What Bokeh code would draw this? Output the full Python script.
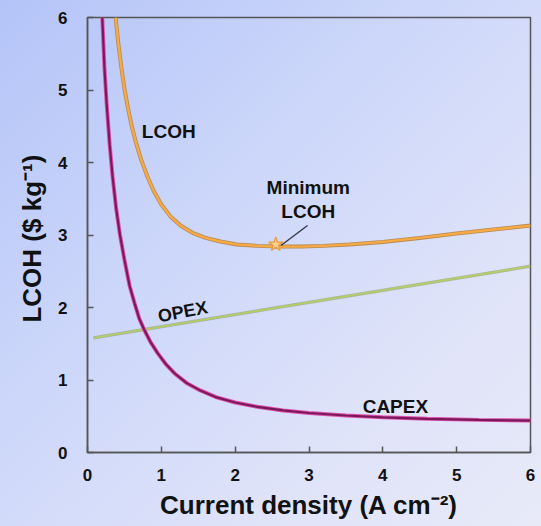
from bokeh.plotting import figure
from bokeh.models import Range1d, FixedTicker
from bokeh.core.properties import value
from bokeh.embed import file_html
from bokeh.resources import INLINE

# ---- data ----
capex_x = [0.20, 0.23, 0.26, 0.30, 0.34, 0.39, 0.44, 0.50, 0.57, 0.64, 0.70, 0.77, 0.85,
           0.95, 1.06, 1.18, 1.34, 1.52, 1.75, 2.00, 2.30, 2.65, 3.00, 3.50, 4.00, 4.60,
           5.30, 6.00]
capex_y = [6.00, 5.30, 4.80, 4.25, 3.80, 3.35, 3.00, 2.66, 2.30, 2.05, 1.85, 1.69, 1.53,
           1.37, 1.22, 1.09, 0.96, 0.86, 0.76, 0.69, 0.63, 0.58, 0.545, 0.51, 0.485, 0.465,
           0.45, 0.44]

lcoh_x = [0.38, 0.42, 0.46, 0.50, 0.55, 0.60, 0.66, 0.73, 0.81, 0.90, 1.00, 1.12, 1.26,
          1.42, 1.60, 1.80, 2.02, 2.30, 2.60, 2.90, 3.20, 3.55, 4.00, 4.50, 5.00, 5.50, 6.00]
lcoh_y = [6.00, 5.62, 5.30, 5.02, 4.74, 4.50, 4.26, 4.03, 3.81, 3.60, 3.42, 3.26, 3.13,
          3.03, 2.96, 2.91, 2.87, 2.85, 2.84, 2.84, 2.85, 2.87, 2.905, 2.96, 3.02, 3.075, 3.13]

opex_x = [0.08, 3.00, 6.00]
opex_y = [1.58, 2.07, 2.57]

min_x = [2.55]
min_y = [2.87]

x_ticks = [0, 1, 2, 3, 4, 5, 6]
y_ticks = [0, 1, 2, 3, 4, 5, 6]

FONT = "Liberation Sans"

p = figure(width=541, height=526, output_backend="svg", toolbar_location=None,
           x_range=Range1d(0, 6), y_range=Range1d(0, 6),
           min_border_left=87, min_border_right=11, min_border_top=17, min_border_bottom=74)
p.styles = {"background": "linear-gradient(135deg, #b4c4f8 0%, #cdd7fa 40%, #e0e4f9 75%, #e8eaf8 100%)"}
p.background_fill_alpha = 0
p.border_fill_alpha = 0
p.outline_line_color = "#555555"
p.outline_line_width = 1.5
p.xgrid.visible = False
p.ygrid.visible = False

for ax in (p.xaxis[0], p.yaxis[0]):
    ax.axis_line_color = "#555555"
    ax.axis_line_width = 1.5
    ax.major_tick_line_color = "#555555"
    ax.major_tick_line_width = 1.5
    ax.major_tick_in = 6
    ax.major_tick_out = 0
    ax.minor_tick_line_color = None
    ax.major_label_text_font = FONT
    ax.major_label_text_font_style = "bold"
    ax.major_label_text_font_size = "17px"
    ax.major_label_text_color = "#111111"
    ax.axis_label_text_font = FONT
    ax.axis_label_text_font_style = "bold"
    ax.axis_label_text_font_size = "26px"
    ax.axis_label_text_color = "#111111"

p.xaxis.ticker = FixedTicker(ticks=x_ticks)
p.yaxis.ticker = FixedTicker(ticks=y_ticks)
p.xaxis.axis_label = "Current density (A cm\u207b\u00b2)"
p.yaxis.axis_label = "LCOH  ($ kg\u207b\u00b9)"
p.xaxis.major_label_standoff = 16
p.yaxis.major_label_standoff = 20
p.xaxis.axis_label_standoff = 6
p.yaxis.axis_label_standoff = 8

# OPEX
p.line(opex_x, opex_y, line_color="#8a9a60", line_width=3.2, line_alpha=0.6)
p.line(opex_x, opex_y, line_color="#b4cc6a", line_width=1.8)
# CAPEX
p.line(capex_x, capex_y, line_color="#e050b0", line_width=4)
p.line(capex_x, capex_y, line_color="#7a1a5a", line_width=2.2)
# LCOH
p.line(lcoh_x, lcoh_y, line_color="#b88a55", line_width=4)
p.line(lcoh_x, lcoh_y, line_color="#f5aa45", line_width=2.4)

# pointer line and star
p.segment(x0=[2.62], y0=[2.855], x1=[2.98], y1=[3.13], line_color="#333344", line_width=1.3)
p.scatter(min_x, min_y, marker="star", size=15, fill_color="#fbd08a",
          line_color="#e89a40", line_width=1.2)

lab = dict(text_font=value(FONT), text_font_style="bold", text_color="#111111",
           text_align="center", text_baseline="middle")
p.text(x=[1.10], y=[4.43], text=["LCOH"], text_font_size="19px", **lab)
p.text(x=[4.17], y=[0.63], text=["CAPEX"], text_font_size="19px", **lab)
p.text(x=[1.29], y=[1.94], text=["OPEX"], text_font_size="18px", angle=0.19, **lab)
p.text(x=[2.99], y=[3.66], text=["Minimum"], text_font_size="19px", **lab)
p.text(x=[2.99], y=[3.32], text=["LCOH"], text_font_size="19px", **lab)

open("out.html", "w").write(file_html(p, INLINE))
